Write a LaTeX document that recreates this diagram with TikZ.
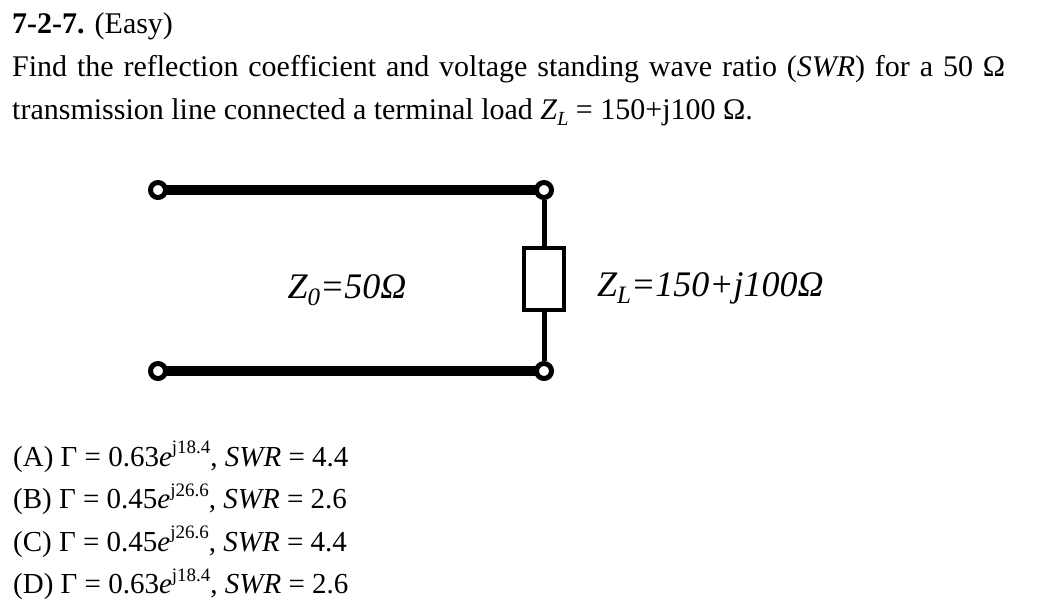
\documentclass[tikz,border=0pt]{standalone}
\usepackage{fontspec}
\setmainfont{Liberation Serif}
\newcommand\subL{\raisebox{-0.2em}{\fontsize{20}{20}\selectfont\itshape L}}
\newcommand\supx[1]{\raisebox{0.42em}{\fontsize{19}{19}\selectfont #1}}
\newcommand\lsub[1]{\raisebox{-0.22em}{\fontsize{25}{25}\selectfont\itshape #1}}
\tikzset{
  txt/.style={anchor=base west, inner sep=0pt, font=\fontsize{30}{36}\selectfont},
  ans/.style={anchor=base west, inner sep=0pt, font=\fontsize{29}{35}\selectfont},
  lbl/.style={inner sep=0pt, font=\fontsize{36}{42}\selectfont\itshape},
  term/.style={circle, draw, fill=white, line width=5pt, minimum size=15pt, inner sep=0pt},
  loadbox/.style={rectangle, draw, fill=white, line width=4.5pt, minimum width=40pt, minimum height=62pt, inner sep=0pt},
  tline/.style={line width=10pt},
  wire/.style={line width=5pt}
}
\begin{document}
\begin{tikzpicture}[x=1pt,y=-1pt]
\useasboundingbox (0,0) rectangle (1041,614);
\fill[white] (0,0) rectangle (1041,614);
% text
\node[txt] (title) at (12,33) {\textbf{7-2-7.} (Easy)};
\node[txt] (q1) at (12,76) {\makebox[993pt][s]{Find the reflection coefficient and voltage standing wave ratio (\textit{SWR}) for a 50 Ω}};
\node[txt] (q2) at (12,119) {transmission line connected a terminal load \textit{Z}\subL{} = 150+j100 Ω.};
% circuit
\draw[tline] (158,190) -- (544,190);
\draw[tline] (158,371) -- (544,371);
\node[loadbox] (load) at (544,279) {};
\node[term] (t1) at (158,190) {};
\node[term] (t2) at (544,190) {};
\node[term] (t3) at (158,371) {};
\node[term] (t4) at (544,371) {};
\draw[wire] (t2) -- (load);
\draw[wire] (load) -- (t4);
\node[lbl, anchor=base] (z0) at (347,298) {Z\lsub{0}=50Ω};
\node[lbl, anchor=base west] (zl) at (597,296) {Z\lsub{L}=150+j100Ω};
% answers
\node[ans] (a) at (13,466) {(A) Γ = 0.63\textit{e}\supx{j18.4}, \textit{SWR} = 4.4};
\node[ans] (b) at (13,508.5) {(B) Γ = 0.45\textit{e}\supx{j26.6}, \textit{SWR} = 2.6};
\node[ans] (c) at (13,551) {(C) Γ = 0.45\textit{e}\supx{j26.6}, \textit{SWR} = 4.4};
\node[ans] (d) at (13,593.5) {(D) Γ = 0.63\textit{e}\supx{j18.4}, \textit{SWR} = 2.6};
\end{tikzpicture}
\end{document}
